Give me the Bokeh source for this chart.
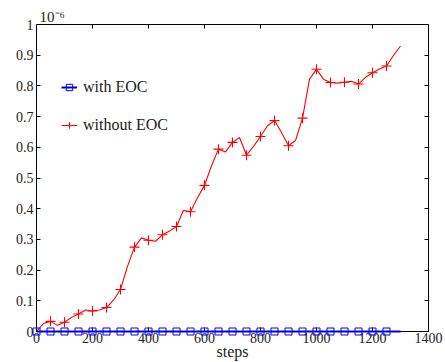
from bokeh.plotting import figure
from bokeh.models import (LinearAxis, FixedTicker, CustomJSTickFormatter, Legend,
                          LegendItem, Range1d)
from bokeh.embed import file_html
from bokeh.resources import INLINE

# values in units of 1e-6
marker_steps = [0, 50, 100, 150, 200, 250, 300, 350, 400, 450, 500, 550, 600,
                650, 700, 750, 800, 850, 900, 950, 1000, 1050, 1100, 1150, 1200, 1250]
without_eoc_markers = [0.0, 0.033, 0.030, 0.057, 0.067, 0.078, 0.137, 0.275, 0.297,
                       0.315, 0.342, 0.390, 0.476, 0.594, 0.616, 0.574, 0.635, 0.687,
                       0.605, 0.695, 0.854, 0.811, 0.812, 0.806, 0.843, 0.865]
with_eoc_markers = [0.0] * len(marker_steps)

line_steps = [0, 25, 50, 75, 100, 125, 150, 175, 200, 225, 250, 275, 300, 325, 350,
              375, 400, 425, 450, 475, 500, 525, 550, 575, 600, 625, 650, 675, 700,
              725, 750, 775, 800, 825, 850, 875, 900, 925, 950, 975, 1000, 1025, 1050,
              1075, 1100, 1125, 1150, 1175, 1200, 1225, 1250, 1275, 1300]
without_eoc_line = [0.0, 0.026, 0.033, 0.020, 0.030, 0.046, 0.057, 0.070, 0.067, 0.070,
                    0.078, 0.102, 0.137, 0.212, 0.275, 0.305, 0.297, 0.294, 0.315, 0.327,
                    0.342, 0.395, 0.390, 0.436, 0.476, 0.540, 0.594, 0.585, 0.616, 0.632,
                    0.574, 0.603, 0.635, 0.670, 0.687, 0.648, 0.605, 0.622, 0.695, 0.822,
                    0.854, 0.822, 0.811, 0.809, 0.812, 0.815, 0.806, 0.828, 0.843, 0.855,
                    0.865, 0.899, 0.930]
with_eoc_line = [0.0] * len(line_steps)

x_ticks = [0, 200, 400, 600, 800, 1000, 1200, 1400]
y_ticks = [0, 0.1, 0.2, 0.3, 0.4, 0.5, 0.6, 0.7, 0.8, 0.9, 1.0]
scale_label = "10\u207b\u2076"

FONT = "Liberation Serif"
TICK_FS = "14px"
TEXT_FS = "16px"
TXT = "#222222"

p = figure(width=445, height=362, output_backend="svg", toolbar_location=None,
           x_range=Range1d(0, 1400), y_range=Range1d(0, 1),
           x_axis_location=None, y_axis_location=None,
           min_border_left=36, min_border_right=17, min_border_top=24, min_border_bottom=28)
p.grid.visible = False
p.outline_line_color = None
p.background_fill_color = "white"

p.title.text = scale_label
p.title.align = "left"
p.title.offset = 3
p.title.text_font = FONT
p.title.text_font_size = "15px"
p.title.text_font_style = "normal"
p.title.text_color = TXT
p.title.standoff = 0

fmt = CustomJSTickFormatter(code="return tick.toFixed(1).replace(/\\.0$/, '');")

def style(ax, labels):
    ax.axis_line_color = "black"
    ax.axis_line_width = 1
    ax.major_tick_in = 4
    ax.major_tick_out = 0
    ax.minor_tick_line_color = None
    ax.major_tick_line_color = "black"
    ax.major_label_text_font = FONT
    if labels:
        ax.major_label_text_font_size = TICK_FS
        ax.major_label_text_color = TXT
        ax.major_label_standoff = 3
    else:
        ax.major_label_text_font_size = "1px"
        ax.major_label_text_color = None
        ax.major_label_standoff = 0

bx = LinearAxis(ticker=FixedTicker(ticks=x_ticks), axis_label="steps")
style(bx, True)
bx.major_label_standoff = 1
bx.axis_label_text_font = FONT
bx.axis_label_text_font_size = TEXT_FS
bx.axis_label_text_font_style = "normal"
bx.axis_label_text_color = TXT
bx.axis_label_standoff = -3
p.add_layout(bx, "below")

ly = LinearAxis(ticker=FixedTicker(ticks=y_ticks), formatter=fmt)
style(ly, True)
p.add_layout(ly, "left")

tx = LinearAxis(ticker=FixedTicker(ticks=x_ticks))
style(tx, False)
p.add_layout(tx, "above")
ry = LinearAxis(ticker=FixedTicker(ticks=y_ticks))
style(ry, False)
p.add_layout(ry, "right")

r_red_line = p.line(line_steps, without_eoc_line, line_color="red", line_width=1.1)
r_red_pts = p.scatter(marker_steps, without_eoc_markers, marker="cross", size=10,
                      line_color="red", line_width=1.1)
r_blue_line = p.line(line_steps, with_eoc_line, line_color="#0000cc", line_width=2,
                     level="overlay")
r_blue_pts = p.scatter(marker_steps, with_eoc_markers, marker="square", size=7,
                       line_color="blue", fill_color=None, line_width=1, level="overlay")

legend = Legend(items=[LegendItem(label="with EOC", renderers=[r_blue_line, r_blue_pts]),
                       LegendItem(label="without EOC", renderers=[r_red_line, r_red_pts])],
                location=(25, 196), border_line_color=None, background_fill_alpha=0,
                padding=0, margin=0, spacing=18, glyph_width=16, glyph_height=20,
                label_height=20, label_standoff=6, label_text_font=FONT,
                label_text_font_size=TEXT_FS, label_text_color=TXT)
p.add_layout(legend, "center")

open("out.html", "w").write(file_html(p, INLINE))
